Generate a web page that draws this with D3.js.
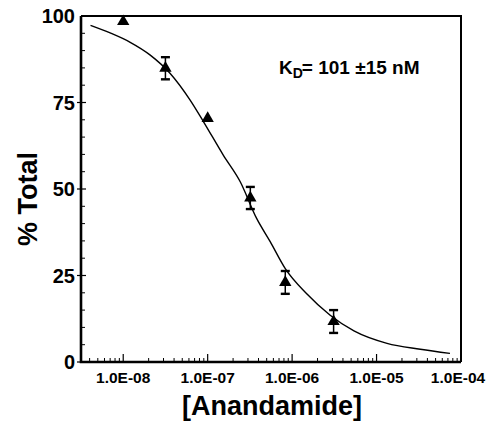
<!DOCTYPE html>
<html>
<head>
<meta charset="utf-8">
<script src="https://cdn.jsdelivr.net/npm/d3@7"></script>
<style>
  html, body { margin: 0; padding: 0; background: #fff; }
  svg { display: block; }
  text { font-family: "Liberation Sans", Arial, Helvetica, sans-serif; font-weight: bold; fill: #000; }
</style>
</head>
<body>
<div id="viz"></div>
<script>
const WIDTH = 486;
const HEIGHT = 427;

// measured points (concentration in M, % total, +/- error)
const pointConc = [1.0e-8, 3.16e-8, 1.0e-7, 3.2e-7, 8.3e-7, 3.1e-6];
const pointValue = [98.4, 84.9, 70.4, 47.4, 23.0, 11.7];
const pointErr = [0, 3.2, 0, 3.2, 3.3, 3.3];

// fitted curve
const curveConc = [4.1e-9, 7e-9, 1.21e-8, 2.09e-8, 3.6e-8, 6.2e-8, 8.9e-8, 1.53e-7,
  2.43e-7, 3.8e-7, 5.5e-7, 8.3e-7, 1.48e-6, 2.8e-6, 5.4e-6, 1.33e-5, 3.3e-5, 7.4e-5];
const curveValue = [97.3, 95.1, 92.4, 88.7, 83.4, 75.7, 69.5, 59.8,
  52.1, 41.5, 34.8, 27.0, 19.8, 13.6, 9.0, 5.4, 3.7, 2.5];

const xTickValues = [1e-8, 1e-7, 1e-6, 1e-5, 1e-4];
const yTickValues = [0, 25, 50, 75, 100];

const margin = { left: 81, right: 25, top: 16, bottom: 65 };

const svg = d3.select("#viz").append("svg")
  .attr("width", WIDTH)
  .attr("height", HEIGHT);

const x = d3.scaleLog()
  .domain([Math.pow(10, -8.5), 1e-4])
  .range([margin.left, WIDTH - margin.right]);

const y = d3.scaleLinear()
  .domain([0, 100])
  .range([HEIGHT - margin.bottom, margin.top]);

// frame (top and right)
svg.append("path")
  .attr("d", `M${x.range()[0]},${y(100)}H${x.range()[1]}V${y(0)}`)
  .attr("fill", "none")
  .attr("stroke", "#000")
  .attr("stroke-width", 2);

// x minor ticks
const minorX = [];
for (let e = -9; e < -4; e++) {
  for (let m = 2; m <= 9; m++) {
    const v = m * Math.pow(10, e);
    if (v >= x.domain()[0] && v <= x.domain()[1]) minorX.push(v);
  }
}
svg.append("g").selectAll("line")
  .data(minorX)
  .join("line")
  .attr("x1", d => x(d)).attr("x2", d => x(d))
  .attr("y1", y(0)).attr("y2", y(0) - 4)
  .attr("stroke", "#000").attr("stroke-width", 1);

svg.append("g").selectAll("line")
  .data(xTickValues)
  .join("line")
  .attr("x1", d => x(d)).attr("x2", d => x(d))
  .attr("y1", y(0)).attr("y2", y(0) - 8)
  .attr("stroke", "#000").attr("stroke-width", 1.2);

// last label nudged left so it stays inside the window
svg.append("g").selectAll("text")
  .data(xTickValues)
  .join("text")
  .attr("x", (d, i) => x(d) - (i === xTickValues.length - 1 ? 3 : 0))
  .attr("y", 383)
  .attr("text-anchor", "middle")
  .style("font-size", "15.5px")
  .text(d => "1.0E-0" + Math.round(-Math.log10(d)));

// y ticks
const minorY = d3.range(5, 100, 5).filter(v => v % 25 !== 0);
svg.append("g").selectAll("line")
  .data(minorY)
  .join("line")
  .attr("x1", x.range()[0]).attr("x2", x.range()[0] + 4)
  .attr("y1", d => y(d)).attr("y2", d => y(d))
  .attr("stroke", "#000").attr("stroke-width", 1);

svg.append("g").selectAll("line")
  .data(yTickValues.slice(0, 4))
  .join("line")
  .attr("x1", x.range()[0] - 4).attr("x2", x.range()[0] + 5)
  .attr("y1", d => y(d)).attr("y2", d => y(d))
  .attr("stroke", "#000").attr("stroke-width", 1.2);

svg.append("g").selectAll("text")
  .data(yTickValues)
  .join("text")
  .attr("x", x.range()[0] - 6)
  .attr("y", d => y(d))
  .attr("dy", "0.36em")
  .attr("text-anchor", "end")
  .style("font-size", "20px")
  .text(d => d);

// axes lines (left, bottom) - thick
svg.append("path")
  .attr("d", `M${x.range()[0]},${y(100)}V${y(0)}H${x.range()[1]}`)
  .attr("fill", "none")
  .attr("stroke", "#000")
  .attr("stroke-width", 2.6);

// fitted curve
const line = d3.line()
  .x(d => x(d[0]))
  .y(d => y(d[1]))
  .curve(d3.curveMonotoneX);

svg.append("path")
  .datum(d3.zip(curveConc, curveValue))
  .attr("d", line)
  .attr("fill", "none")
  .attr("stroke", "#000")
  .attr("stroke-width", 1.4);

// error bars
const points = d3.zip(pointConc, pointValue, pointErr);
const eb = svg.append("g")
  .selectAll("g")
  .data(points.filter(d => d[2] > 0))
  .join("g")
  .attr("stroke", "#000")
  .attr("stroke-width", 2.4);

eb.append("line")
  .attr("x1", d => x(d[0])).attr("x2", d => x(d[0]))
  .attr("y1", d => y(d[1] + d[2])).attr("y2", d => y(d[1] - d[2]))
  .attr("stroke-width", 1.5);
eb.append("line")
  .attr("x1", d => x(d[0]) - 4.5).attr("x2", d => x(d[0]) + 4.5)
  .attr("y1", d => y(d[1] + d[2])).attr("y2", d => y(d[1] + d[2]));
eb.append("line")
  .attr("x1", d => x(d[0]) - 4.5).attr("x2", d => x(d[0]) + 4.5)
  .attr("y1", d => y(d[1] - d[2])).attr("y2", d => y(d[1] - d[2]));

// triangles
svg.append("g")
  .selectAll("path")
  .data(points)
  .join("path")
  .attr("transform", d => `translate(${x(d[0])},${y(d[1])})`)
  .attr("d", d3.symbol(d3.symbolTriangle, 66))
  .attr("fill", "#000");

// K_D annotation
const kd = svg.append("text")
  .attr("x", 279)
  .attr("y", 74)
  .style("font-size", "19px");
kd.append("tspan").text("K");
kd.append("tspan").attr("dy", 4).style("font-size", "14px").text("D");
kd.append("tspan").attr("dy", -4).attr("dx", -1).text("= 101 \u00b115 nM");

// axis titles
svg.append("text")
  .attr("transform", "translate(37,199) rotate(-90)")
  .attr("text-anchor", "middle")
  .style("font-size", "27px")
  .text("% Total");

svg.append("text")
  .attr("x", 272)
  .attr("y", 415)
  .attr("text-anchor", "middle")
  .style("font-size", "27px")
  .text("[Anandamide]");
</script>
</body>
</html>
